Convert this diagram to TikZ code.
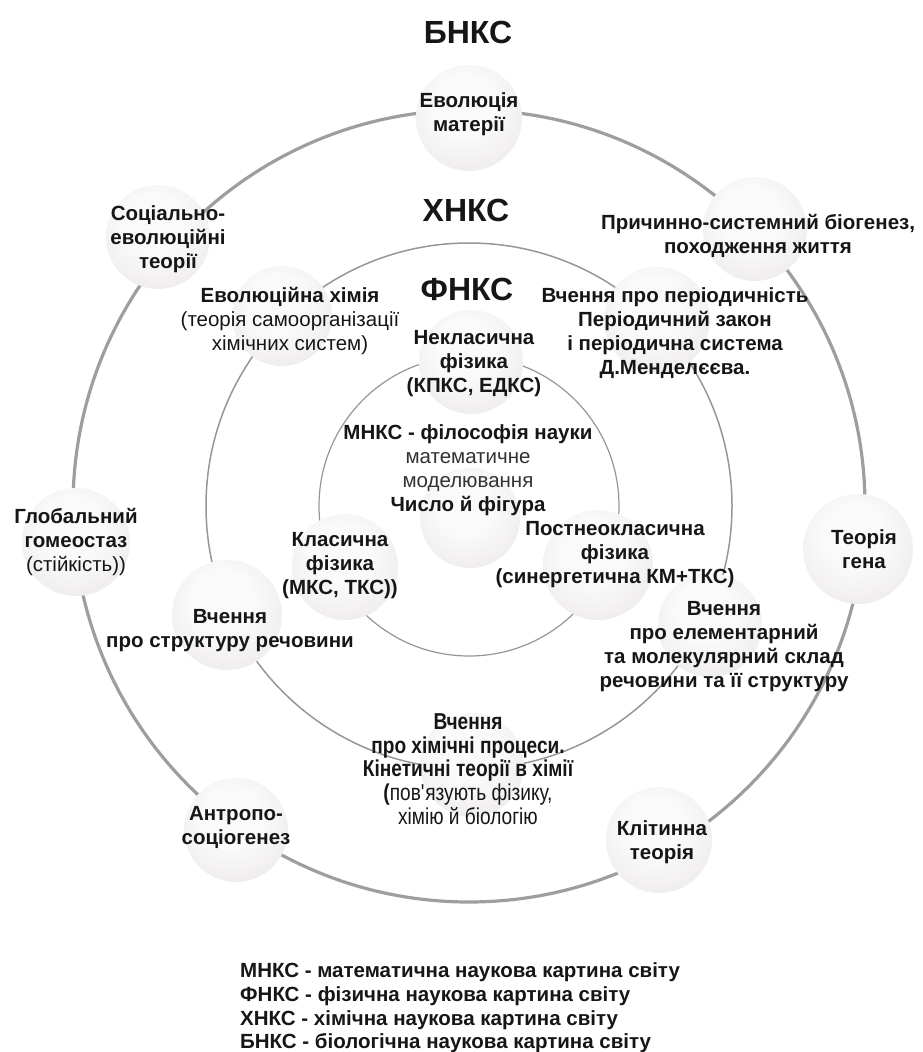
\documentclass[tikz,border=0pt]{standalone}
\usepackage{fontspec}
\setmainfont{Liberation Sans}
\newfontfamily\narrowfont[FakeStretch=0.83]{Liberation Sans}

\definecolor{ink}{RGB}{22,22,22}
\definecolor{softink}{RGB}{50,50,50}
\definecolor{ringgray}{RGB}{158,158,158}
\definecolor{ringthin}{RGB}{150,150,150}
\definecolor{ballhi}{RGB}{251,250,250}
\definecolor{ballmid}{RGB}{236,233,233}
\definecolor{balledge}{RGB}{215,210,210}
\definecolor{ballrim}{RGB}{198,193,193}

% soft sphere: light spot slightly above the middle, greyish rim
\pgfdeclareradialshading{sphereshade}{\pgfpoint{-3bp}{8bp}}{%
  color(0bp)=(ballhi); color(14bp)=(ballhi); color(34bp)=(ballmid);
  color(50bp)=(balledge); color(62bp)=(ballrim)}

\tikzset{
  sphere/.style={circle, draw=none, shading=sphereshade, minimum size=#1, inner sep=0pt},
  sphere/.default=104pt,
  lbl/.style={align=center, inner sep=0pt, text=ink,
    font=\fontsize{20.5}{24}\selectfont\bfseries},
  narrowlbl/.style={align=center, inner sep=0pt, text=ink,
    font=\narrowfont\fontsize{23}{23.6}\selectfont\bfseries},
  title/.style={inner sep=0pt, text=ink, font=\fontsize{32}{36}\selectfont\bfseries},
  legend/.style={align=left, inner sep=0pt, text=ink, anchor=west,
    font=\fontsize{20.5}{23.6}\selectfont\bfseries},
  ringouter/.style={draw=ringgray, line width=3.2pt},
  ringmid/.style={draw=ringthin, line width=1.5pt},
  ringinner/.style={draw=ringthin, line width=1.2pt},
}

\begin{document}
\begin{tikzpicture}[x=1pt, y=-1pt]
\useasboundingbox (0,0) rectangle (922,1052);

\coordinate (c) at (469,506);

% the three concentric pictures of the world
\draw[ringouter] (c) circle (396pt);
\draw[ringmid]   (c) circle (263pt);
\draw[ringinner] (c) circle (150pt);

% spheres sitting on the rings
\node[sphere=106pt] (sEvol)   at (469,118) {};
\node[sphere=104pt] (sSoc)    at (158,237) {};
\node[sphere=104pt] (sBio)    at (755,229) {};
\node[sphere=100pt] (sChem)   at (282,316) {};
\node[sphere=106pt] (sPer)    at (657,320) {};
\node[sphere=104pt] (sNonCl)  at (471,362) {};
\node[sphere=100pt] (sNum)    at (470,518) {};
\node[sphere=106pt] (sCl)     at (345,567) {};
\node[sphere=110pt] (sPost)   at (598,565) {};
\node[sphere=110pt] (sGene)   at (858,549) {};
\node[sphere=104pt] (sElem)   at (710,625) {};
\node[sphere=108pt] (sHom)    at (76,542)  {};
\node[sphere=110pt] (sStruct) at (227,615) {};
\node[sphere=104pt] (sProc)   at (472,765) {};
\node[sphere=104pt] (sAnth)   at (236,830) {};
\node[sphere=106pt] (sCell)   at (659,840) {};

% ring titles
\node[title] (tB) at (468,32)  {БНКС};
\node[title] (tX) at (466,210) {ХНКС};
\node[title] (tF) at (467,289) {ФНКС};

% texts
\node[lbl] (lEvol) at (469,114) {Еволюція\\матерії};
\node[lbl] (lSoc)  at (168,239) {Соціально-\\еволюційні\\теорії};
\node[lbl] (lBio)  at (758,236) {Причинно-системний біогенез,\\походження життя};
\node[lbl] (lChem) at (290,321)
  {Еволюційна хімія\\\mdseries(теорія самоорганізації\\\mdseries хімічних систем)};
\node[lbl] (lPer)  at (675,333)
  {Вчення про періодичність\\Періодичний закон\\і періодична система\\Д.Менделєєва.};
\node[lbl] (lNonCl) at (474,364) {Некласична\\фізика\\(КПКС, ЕДКС)};
\node[lbl] (lMath) at (468,470)
  {МНКС - філософія науки\\{\mdseries\color{softink}математичне}\\{\mdseries\color{softink}моделювання}\\Число й фігура};
\node[lbl] (lCl)   at (340,566) {Класична\\фізика\\(МКС, ТКС))};
\node[lbl] (lPost) at (615,555) {Постнеокласична\\фізика\\(синергетична КМ+ТКС)};
\node[lbl] (lGene) at (864,549) {Теорія\\гена};
\node[lbl] (lElem) at (724,647)
  {Вчення\\про елементарний\\та молекулярний склад\\речовини та її структуру};
\node[lbl] (lHom)  at (76,542) {Глобальний\\гомеостаз\\\mdseries(стійкість))};
\node[lbl] (lStruct) at (230,631) {Вчення\\про структуру речовини};
\node[narrowlbl] (lProc) at (468,769)
  {Вчення\\про хімічні процеси.\\Кінетичні теорії в хімії\\(\mdseries пов\textquotesingle язують фізику,\\\mdseries хімію й біологію};
\node[lbl] (lAnth) at (236,827) {Антропо-\\соціогенез};
\node[lbl] (lCell) at (662,842) {Клітинна\\теорія};

% legend
\node[legend] (legend) at (240,1008)
  {МНКС - математична наукова картина світу\\
   ФНКС - фізична наукова картина світу\\
   ХНКС - хімічна наукова картина світу\\
   БНКС - біологічна наукова картина світу};
\end{tikzpicture}
\end{document}
